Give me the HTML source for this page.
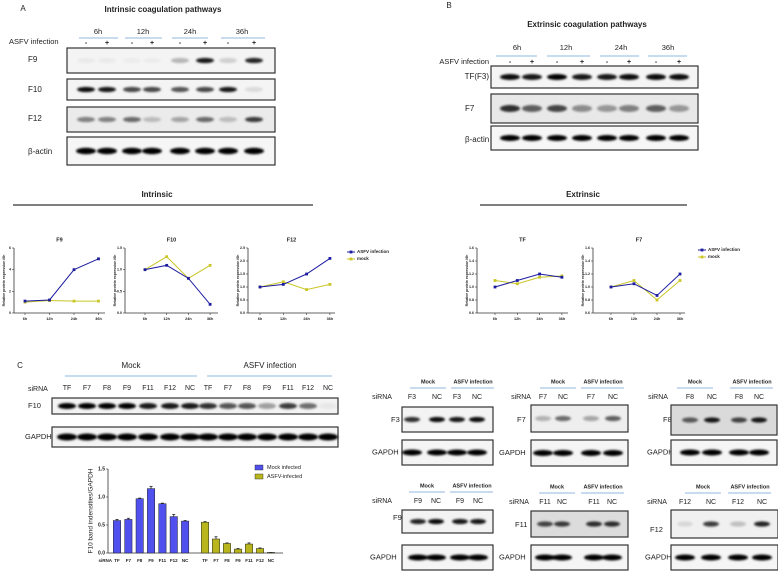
<!DOCTYPE html>
<html><head><meta charset="utf-8">
<style>
html,body{margin:0;padding:0;background:#fff;}
svg{display:block;font-family:"Liberation Sans",sans-serif;}
</style></head>
<body>
<svg id="fig" width="778" height="572" viewBox="0 0 778 572" xmlns="http://www.w3.org/2000/svg">
<defs><filter id="blur" x="-50%" y="-100%" width="200%" height="300%"><feGaussianBlur stdDeviation="1.1"/></filter></defs>
</svg>
<script>
// ---- chart data ----
const timeCats = ['6h','12h','24h','36h'];
const f9Asfv = [1.1,1.2,4.0,5.0];
const f9Mock = [1.0,1.15,1.1,1.1];
const f9Ticks = [0,2,4,6];
const f10Asfv = [1.0,1.1,0.8,0.2];
const f10Mock = [1.0,1.3,0.8,1.1];
const f10Ticks = [0.0,0.5,1.0,1.5];
const f12Asfv = [1.0,1.1,1.5,2.1];
const f12Mock = [1.0,1.2,0.9,1.1];
const f12Ticks = [0.0,0.5,1.0,1.5,2.0,2.5];
const tfAsfv = [1.0,1.1,1.2,1.15];
const tfMock = [1.1,1.05,1.15,1.17];
const extTicks = [0.6,0.8,1.0,1.2,1.4,1.6];
const f7Asfv = [1.0,1.05,0.87,1.2];
const f7Mock = [1.0,1.1,0.8,1.1];
const barCats = ['TF','F7','F8','F9','F11','F12','NC'];
const barMock = [0.58,0.60,0.97,1.15,0.88,0.65,0.57];
const barMockErr = [0.02,0.02,0.01,0.04,0.01,0.04,0.01];
const barAsfv = [0.55,0.25,0.17,0.07,0.16,0.08,0.01];
const barAsfvErr = [0.01,0.04,0.01,0.01,0.02,0.01,0.0];
const barTicks = [0.0,0.5,1.0,1.5];

const svg = document.getElementById('fig');
const NS = 'http://www.w3.org/2000/svg';
function mk(tag, attrs, parent){
  const e = document.createElementNS(NS, tag);
  for (const k in attrs) e.setAttribute(k, attrs[k]);
  (parent||svg).appendChild(e);
  return e;
}
function txt(x,y,s,size,anchor,weight,parent){
  const e = mk('text',{x:x,y:y,'font-size':size,'text-anchor':anchor||'middle','font-weight':weight||'normal',fill:'#222','dominant-baseline':'middle'},parent);
  e.textContent = s;
  return e;
}
function label(x,y,s,size,name,anchor,weight){
  const e = txt(x,y,s,size,anchor,weight);
  
  
  return e;
}
function line(x1,y1,x2,y2,stroke,w,parent){
  return mk('line',{x1:x1,y1:y1,x2:x2,y2:y2,stroke:stroke,'stroke-width':w},parent);
}

// ---- blot drawing ----
function blot(name,x0,y0,x1,y1,lanes,ints,bg,rx,ry){
  const g = mk('g',{});
  
  
  mk('rect',{x:x0,y:y0,width:x1-x0,height:y1-y0,fill:bg||'#f2f2f2',stroke:'#333','stroke-width':1.2},g);
  const cy=(y0+y1)/2;
  lanes.forEach((lx,i)=>{
    const b = mk('ellipse',{cx:lx,cy:cy,rx:rx||9,ry:ry||2.6,fill:'#000','fill-opacity':ints[i],filter:'url(#blur)'},g);
    
    
  });
}

// ===== Panel A =====
label(23,9,'A',8,'panel-a-letter');
label(163,10,'Intrinsic coagulation pathways',8,'panel-a-title','middle','bold');
const aLanes=[86,107,132,152,180,205,228,254];
[[98,79,118],[143,125,162],[190,172,208],[242,221,265]].forEach((t,i)=>{
  label(t[0],32,timeCats[i],7.5,'time-label-a');
  const l=line(t[1],38,t[2],38,'#6f9fd0',0.8);
  
  
});
label(9,42,'ASFV infection',7.5,'asfv-infection-label-a','start');
aLanes.forEach((x,i)=>label(x,43,i%2?'+':'-',7,'lane-sign','middle','bold'));
label(28,60,'F9',8,'f9-blot-label','start');
label(28,90,'F10',8,'f10-blot-label','start');
label(28,119,'F12',8,'f12-blot-label','start');
label(28,152,'β-actin',8,'actin-blot-label-a','start');
blot('f9-blot',67,48,275,73,aLanes,[0.04,0.04,0.03,0.03,0.25,0.9,0.15,0.85],'#f4f4f4');
blot('f10-blot',67,79,275,100,aLanes,[0.95,0.9,0.7,0.7,0.65,0.7,0.9,0.1],'#f4f4f4');
blot('f12-blot',67,107,275,132,aLanes,[0.45,0.45,0.55,0.2,0.3,0.55,0.2,0.75],'#ebebeb');
blot('actin-blot-a',67,137,275,165,aLanes,[1,1,1,1,1,1,1,1],'#f6f6f6',10,3.2);

// ===== Panel B =====
label(449,6,'B',8,'panel-b-letter');
label(587,25,'Extrinsic coagulation pathways',8,'panel-b-title','middle','bold');
const bLanes=[510,532,557,582,607,629,656,679];
[[517,496,537],[566,547,590],[621,600,639],[668,648,687]].forEach((t,i)=>{
  label(t[0],48,timeCats[i],7.5,'time-label-b');
  const l=line(t[1],56,t[2],56,'#6f9fd0',0.8);
  
  
});
label(489,62,'ASFV infection',7.5,'asfv-infection-label-b','end');
bLanes.forEach((x,i)=>label(x,62,i%2?'+':'-',7,'lane-sign','middle','bold'));
label(489,77,'TF(F3)',8,'tf-blot-label','end');
label(465,109,'F7',8,'f7-blot-label','start');
label(465,140,'β-actin',8,'actin-blot-label-b','start');
blot('tf-blot',491,66,698,88,bLanes,[0.95,0.9,1,0.9,0.9,0.95,0.95,0.95],'#f5f5f5',10,3);
blot('f7-blot',491,94,698,123,bLanes,[0.8,0.6,0.7,0.4,0.35,0.45,0.6,0.35],'#e8e8e8',10,3.5);
blot('actin-blot-b',491,126,698,150,bLanes,[1,1,1,1,1,1,1,1],'#f6f6f6',10,3);

// ===== Line charts =====
function sectionHeader(cx,y,x1,x2,s,name){
  label(cx,y,s,8,name,'middle','bold');
  const l=line(x1,y+10,x2,y+10,'#333',1.3);
  
  
}
sectionHeader(157,195,13,313,'Intrinsic','intrinsic-header');
sectionHeader(583,195,480,687,'Extrinsic','extrinsic-header');

function lineChart(name,title,ax0,ax1,pad,step,yTop,yBot,ticks,asfv,mock,decimals){
  const g=mk('g',{});
  
  
  const ymin=ticks[0], ymax=ticks[ticks.length-1];
  const yS=v=>yBot-(v-ymin)/(ymax-ymin)*(yBot-yTop);
  const xS=i=>ax0+pad+i*step;
  const t=txt((ax0+ax1)/2,240,title,5.5,'middle','bold',g);
  
  
  line(ax0,yTop,ax0,yBot,'#333',0.8,g);
  line(ax0,yBot,ax1,yBot,'#333',0.8,g);
  ticks.forEach(v=>{
    line(ax0-2,yS(v),ax0,yS(v),'#333',0.6,g);
    const tl=txt(ax0-3,yS(v),v.toFixed(decimals),3.6,'end','bold',g);
    
    
  });
  timeCats.forEach((c,i)=>{
    line(xS(i),yBot,xS(i),yBot+2,'#333',0.6,g);
    const tl=txt(xS(i),yBot+6,c,3.8,'middle','bold',g);
    
    
  });
  const yl=txt(0,0,'Relative protein expression /6h',3.5,'middle','bold',g);
  yl.setAttribute('transform','translate('+(ax0-10)+','+((yTop+yBot)/2)+') rotate(-90)');
  
  
  [[mock,'#c9c626','mock-series'],[asfv,'#1c1ca0','asfv-series']].forEach(s=>{
    const pl=mk('polyline',{points:s[0].map((v,i)=>xS(i)+','+yS(v)).join(' '),fill:'none',stroke:s[1],'stroke-width':1},g);
    
    
    s[0].forEach((v,i)=>{
      const p=mk('rect',{x:xS(i)-1.4,y:yS(v)-1.4,width:2.8,height:2.8,fill:s[1]},g);
      
      
    });
  });
}
lineChart('f9-chart','F9',14,105,11,24.5,248,313,f9Ticks,f9Asfv,f9Mock,0);
lineChart('f10-chart','F10',125,218,20,21.7,248,313,f10Ticks,f10Asfv,f10Mock,1);
lineChart('f12-chart','F12',248,335,12,23.3,248,313,f12Ticks,f12Asfv,f12Mock,1);
lineChart('tf-chart','TF',477,568,18,22.3,248,313,extTicks,tfAsfv,tfMock,1);
lineChart('f7-chart','F7',593,685,18,23,248,313,extTicks,f7Asfv,f7Mock,1);

function lineLegend(x,y,name){
  const g=mk('g',{});
  
  
  [['ASFV infection','#1c1ca0'],['mock','#c9c626']].forEach((e,i)=>{
    line(x,y+i*7,x+8,y+i*7,e[1],1,g);
    mk('rect',{x:x+2.6,y:y+i*7-1.4,width:2.8,height:2.8,fill:e[1]},g);
    const t=txt(x+10,y+i*7,e[0],4.5,'start','bold',g);
    
    
  });
}
lineLegend(347,252,'intrinsic-legend');
lineLegend(698,250,'extrinsic-legend');

// ===== Panel C =====
label(20,366,'C',8,'panel-c-letter');
label(131,366,'Mock',8,'mock-group-label');
label(270,366,'ASFV infection',8,'asfv-group-label');
let ul=line(65,376,197,376,'#6f9fd0',0.8);  
ul=line(207,376,332,376,'#6f9fd0',0.8);  
const cLanes=[67,87,107,127,148,170,190,208,228,247,267,288,308,328];
label(28,389,'siRNA',7,'sirna-label','start');
cLanes.forEach((x,i)=>label(x,388,barCats[i%7],7,'sirna-lane-label'));
label(28,406,'F10',7.5,'f10-blot-label-c','start');
label(25,437,'GAPDH',7.5,'gapdh-blot-label-c','start');
blot('f10-blot-c',52,398,338,414,cLanes,[1,1,1,1,0.9,0.9,0.9,0.8,0.65,0.65,0.35,0.75,0.55,0.05],'#f3f3f3',9,3);
blot('gapdh-blot-c',52,427,338,447,cLanes,[1,1,1,1,1,1,1,1,1,1,1,1,1,1],'#f4f4f4',10,3.5);

// bar chart
(function(){
  const g=mk('g',{});
  
  
  const ax0=108, ax1=283, yTop=469, yBot=553;
  const yS=v=>yBot-v/1.5*(yBot-yTop);
  const mockX=i=>117+i*11.35;
  const asfvX=i=>205+i*11;
  line(ax0,yTop,ax0,yBot,'#333',0.8,g);
  line(ax0,yBot,ax1,yBot,'#333',0.8,g);
  barTicks.forEach(v=>{
    line(ax0-2,yS(v),ax0,yS(v),'#333',0.6,g);
    const t=txt(ax0-3,yS(v),v.toFixed(1),5,'end','bold',g);
    
    
  });
  const yl=txt(0,0,'F10 band indensities/GAPDH',6.5,'middle','normal',g);
  yl.setAttribute('transform','translate(91,511) rotate(-90)');
  
  
  const sl=txt(112,561,'siRNA',4.5,'end','bold',g);
  
  
  [[barMock,barMockErr,mockX,'#5050ee','mock-bar'],[barAsfv,barAsfvErr,asfvX,'#b8b61c','asfv-bar']].forEach(s=>{
    s[0].forEach((v,i)=>{
      const x=s[2](i);
      line(x,yS(v+s[1][i]),x,yS(v),'#222',0.8,g);
      line(x-1.5,yS(v+s[1][i]),x+1.5,yS(v+s[1][i]),'#222',0.8,g);
      const r=mk('rect',{x:x-3.7,y:yS(v),width:7.4,height:yBot-yS(v),fill:s[3],stroke:'#222','stroke-width':0.5},g);
      
      
      const t=txt(x,561,barCats[i],4.5,'middle','bold',g);
      
      
    });
  });
  [['Mock infected','#5050ee'],['ASFV-infected','#b8b61c']].forEach((e,i)=>{
    mk('rect',{x:255,y:465+i*9,width:8,height:5,fill:e[1],stroke:'#222','stroke-width':0.4},g);
    const t=txt(267,467.5+i*9,e[0],5.5,'start','normal',g);
    
    
  });
})();

// ===== siRNA knockdown panels =====
function knockPanel(name,bx0,bx1,hy,sy,mockX,asfvX,sirnaX,laneX,target,tLabelX,tY,by0,by1,gLabelX,gy0,gy1,ints,bg){
  label(mockX,hy,'Mock',5.5,name+'-mock-header','middle','bold');
  label(asfvX,hy,'ASFV infection',5.5,name+'-asfv-header','middle','bold');
  let u=line(mockX-18,hy+6,mockX+18,hy+6,'#6f9fd0',0.7);  
  u=line(asfvX-22,hy+6,asfvX+21,hy+6,'#6f9fd0',0.7);  
  label(sirnaX,sy,'siRNA',7,name+'-sirna-label','middle');
  laneX.forEach((x,i)=>label(x,sy,i%2?'NC':target,7,name+'-lane-label'));
  label(tLabelX,tY,target,7.5,name+'-target-label','start');
  blot(name+'-target-blot',bx0,by0,bx1,by1,laneX,ints,bg,8,2.6);
  label(gLabelX,(gy0+gy1)/2,'GAPDH',7.5,name+'-gapdh-label','start');
  blot(name+'-gapdh-blot',bx0,gy0,bx1,gy1,laneX,[1,1,1,1],'#f5f5f5',10,3);
}
knockPanel('f3-panel',402,493,382,397,428,473,382,[412,437,457,477],'F3',391,420,407,432,372,440,465,[0.8,0.95,0.9,0.95],'#f3f3f3');
knockPanel('f7-panel',531,628,382,397,558,603,521,[543,563,591,613],'F7',517,420,405,432,499,440,466,[0.25,0.55,0.3,0.6],'#eeeeee');
knockPanel('f8-panel',671,777,382,397,695,752,658,[690,712,739,759],'F8',663,420,405,435,647,440,465,[0.6,0.9,0.7,0.9],'#dadada');
knockPanel('f9-panel',402,493,486,501,427,472,382,[418,436,460,478],'F9',393,518,510,533,370,545,570,[0.85,0.95,0.9,0.9],'#f3f3f3');
knockPanel('f11-panel',531,628,487,502,557,603,519,[545,562,594,612],'F11',515,525,511,537,499,545,570,[0.7,0.75,0.8,0.8],'#dcdcdc');
knockPanel('f12-panel',671,778,487,502,703,750,657,[685,711,738,762],'F12',650,530,510,538,645,545,570,[0.1,0.75,0.2,0.85],'#f0f0f0');
</script>
</body></html>
